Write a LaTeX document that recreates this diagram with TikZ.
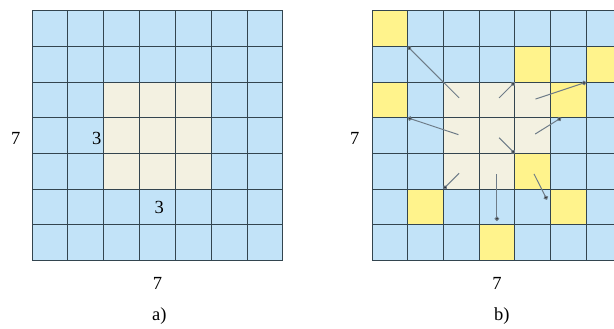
\documentclass[tikz,border=0pt]{standalone}
\usepackage{fontspec}
\setmainfont{Liberation Serif}
\usetikzlibrary{arrows.meta}

\definecolor{zelle}{HTML}{C2E3F8}
\definecolor{kern}{HTML}{F3F1E1}
\definecolor{gelb}{HTML}{FFF38C}
\definecolor{linie}{HTML}{33454F}
\definecolor{pfeil}{HTML}{6E7C88}

\tikzset{
    gitter/.style={draw=linie, line width=1pt},
    zahl/.style={font=\fontsize{18.5}{20}\selectfont, inner sep=1pt},
    zeiger/.style={draw=pfeil, line width=1pt, shorten <=3pt, -{Circle[length=4.6pt, fill=black!85]}}
}

\begin{document}
\begin{tikzpicture}
    \useasboundingbox (0,0) rectangle (614pt,-329pt);
    \clip (0,0) rectangle (614pt,-329pt);

    % a) 7x7 field with 3x3 kernel
    \begin{scope}[shift={(32pt,-11pt)}, x=35.85pt, y=-35.6pt]
        \fill[zelle] (0,0) rectangle (7,7);
        \fill[kern] (2,2) rectangle (5,5);
        \foreach \i in {0,...,7} {
            \draw[gitter] (\i,0) -- (\i,7);
            \draw[gitter] (0,\i) -- (7,\i);
        }
        \path node[zahl] (aL) at (-0.45,3.58) {7}
        node[zahl, anchor=east] (aK) at (1.97,3.58) {3}
        node[zahl] (aU) at (3.55,5.52) {3}
        node[zahl] (aB) at (3.5,7.65) {7}
        node[zahl] (aN) at (3.55,8.58) {a)};
    \end{scope}

    % b) kernel cells pointing to sampled cells
    \begin{scope}[shift={(372pt,-11pt)}, x=35.7pt, y=-35.6pt]
        \fill[zelle] (0,0) rectangle (7,7);
        \fill[kern] (2,2) rectangle (5,5);
        \foreach \c/\r in {0/0, 4/1, 6/1, 0/2, 5/2, 4/4, 1/5, 5/5, 3/6}
            \fill[gelb] (\c,\r) rectangle ++(1,1);
        \foreach \i in {0,...,7} {
            \draw[gitter] (\i,0) -- (\i,7);
            \draw[gitter] (0,\i) -- (7,\i);
        }
        \coordinate (m1) at (2.5,2.5);
        \coordinate (m2) at (2.5,3.5);
        \coordinate (m3) at (3.5,2.5);
        \coordinate (m4) at (4.5,2.5);
        \coordinate (m5) at (4.5,3.5);
        \coordinate (m6) at (3.5,3.5);
        \coordinate (m7) at (2.5,4.5);
        \coordinate (m8) at (3.5,4.5);
        \coordinate (m9) at (4.5,4.5);
        \coordinate (t1) at (1,1);
        \coordinate (t2) at (1,3);
        \coordinate (t3) at (4,2);
        \coordinate (t4) at (6,2);
        \coordinate (t5) at (5.3,3);
        \coordinate (t6) at (4,4);
        \coordinate (t7) at (2,5);
        \coordinate (t8) at (3.5,5.9);
        \coordinate (t9) at (4.9,5.3);
        \foreach \k in {1,...,9}
            \draw[zeiger] (m\k) -- (t\k);
        \path node[zahl] (bL) at (-0.48,3.58) {7}
        node[zahl] (bB) at (3.5,7.65) {7}
        node[zahl] (bN) at (3.64,8.58) {b)};
    \end{scope}
\end{tikzpicture}
\end{document}
